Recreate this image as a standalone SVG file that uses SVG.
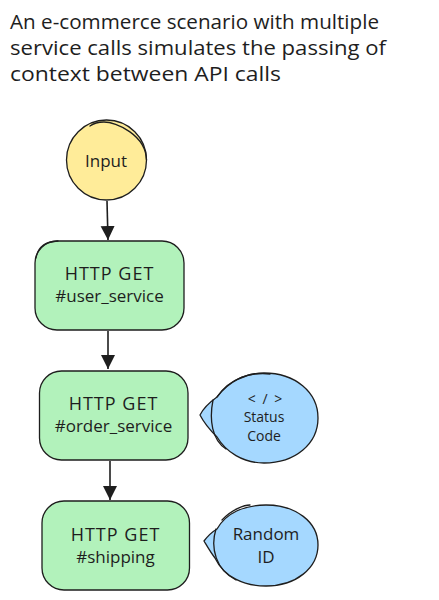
<svg xmlns="http://www.w3.org/2000/svg" width="439" height="600" viewBox="0 0 439 600">
<style>
text{font-family:"Open Sans","Liberation Sans",sans-serif;fill:#1e1e1e}
.t{font-size:20px}
.n{font-size:17px;text-anchor:middle}
.h{font-size:18px;letter-spacing:1px;text-anchor:middle}
.s{font-size:14px;text-anchor:middle}
.st{fill:none;stroke:#1e1e1e;stroke-width:1.300;stroke-linejoin:round;stroke-linecap:round}
.box{fill:#b2f2bb}
.blue{fill:#a5d8ff}
.c{fill:none;stroke:#1e1e1e;stroke-width:1.600}
</style>
<defs>
<marker id="a" markerUnits="userSpaceOnUse" markerWidth="16" markerHeight="16" refX="14" refY="7" orient="auto"><path d="M0 0L14 7L0 14Z" fill="#1e1e1e"/></marker>
</defs>
<rect width="439" height="600" fill="#fff"/>
<g id="title">
<text class="t" x="10" y="29" textLength="369" lengthAdjust="spacingAndGlyphs">An e-commerce scenario with multiple</text>
<text class="t" x="10" y="55" textLength="376" lengthAdjust="spacingAndGlyphs">service calls simulates the passing of</text>
<text class="t" x="10" y="81" textLength="271" lengthAdjust="spacingAndGlyphs">context between API calls</text>
</g>
<g id="connectors">
<path class="c" d="M107 201L108 240" marker-end="url(#a)"/>
<path class="c" d="M108 331L108 369" marker-end="url(#a)"/>
<path class="c" d="M110 461L110 500" marker-end="url(#a)"/>
</g>
<g id="input">
<circle cx="106.500" cy="160" r="40" fill="#ffec99"/>
<circle class="st" cx="106.500" cy="160" r="40"/>
<path class="st" d="M90 126C94 123 100 122 104 122C116 122 146 135 146.500 160"/>
<text class="n" x="106" y="167">Input</text>
</g>
<g id="user_service">
<rect class="box" x="35" y="241" width="149" height="89" rx="22"/>
<rect class="st" x="35" y="241" width="149" height="89" rx="22"/>
<path class="st" d="M36 258C38 246 46 241.500 58 241"/>
<text class="h" x="109.500" y="280">HTTP GET</text>
<text class="n" x="109.500" y="302">#user_service</text>
</g>
<g id="order_service">
<rect class="box" x="39.500" y="371" width="148.500" height="89" rx="22"/>
<rect class="st" x="39.500" y="371" width="148.500" height="89" rx="22"/>
<text class="h" x="113.500" y="410">HTTP GET</text>
<text class="n" x="113.500" y="432">#order_service</text>
</g>
<g id="shipping">
<rect class="box" x="42" y="501" width="147.500" height="89" rx="22"/>
<rect class="st" x="42" y="501" width="147.500" height="89" rx="22"/>
<text class="h" x="115.500" y="541">HTTP GET</text>
<text class="n" x="115.500" y="563">#shipping</text>
</g>
<g id="status_code">
<path class="blue st" d="M200 415C203 409 210 402 217 397C228 382 245 373 264 373C295 373 318 392 318 418C318 444 295 463 264 463C243 463 226 452 217 437C210 430 203 421 200 415Z"/>
<path class="st" d="M213 400C209 420 212 440 226 449M217 397C230 378 250 372 270 374"/>
<text class="s" x="265" y="404" word-spacing="3">&lt; / &gt;</text>
<text class="s" x="264" y="422">Status</text>
<text class="s" x="264" y="441">Code</text>
</g>
<g id="random_id">
<path class="blue st" d="M204 541C207 537 212 532 217 529C226 513 244 505 266 505C296 505 318 522 318 545C318 568 296 586 266 586C244 586 224 577 215 558C211 553 207 546 204 541Z"/>
<path class="st" d="M216 529C210 548 216 570 236 580M222 520C232 509 245 505 250 505"/>
<text class="n" x="266" y="540">Random</text>
<text class="n" x="266" y="563">ID</text>
</g>
</svg>
